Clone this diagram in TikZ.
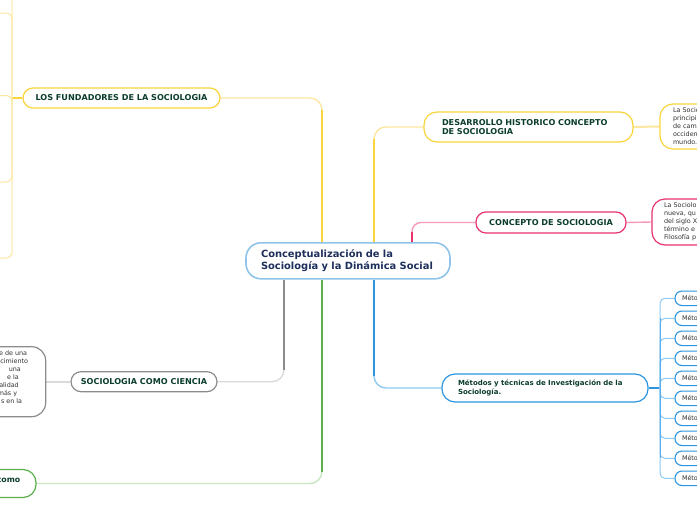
\documentclass[tikz,border=0pt]{standalone}
\usepackage{fontspec}
\setmainfont{DejaVu Sans}
\usetikzlibrary{calc,backgrounds}
\definecolor{yl}{HTML}{F9D43A}
\definecolor{ylL}{HTML}{FCE7A0}
\definecolor{pk}{HTML}{E8336D}
\definecolor{pkL}{HTML}{F59BB8}
\definecolor{bl}{HTML}{2D96E0}
\definecolor{blM}{HTML}{5AB0EE}
\definecolor{blL}{HTML}{8FCBF5}
\definecolor{gr}{HTML}{8C8C8C}
\definecolor{grL}{HTML}{DADADA}
\definecolor{gn}{HTML}{5BAF4A}
\definecolor{gnL}{HTML}{C8E6C0}
\definecolor{rootc}{HTML}{8FC4EA}
\definecolor{dkg}{HTML}{0B3D2B}
\definecolor{navy}{HTML}{1E2F5C}
\definecolor{txg}{HTML}{333333}
\begin{document}
\begin{tikzpicture}[x=1pt,y=-1pt,
  rootbox/.style={draw=rootc, line width=1.6, rounded corners=15, fill=white, text=navy,
    font=\fontsize{9.9}{12.3}\selectfont\bfseries, align=left, text width=174, inner xsep=15, inner ysep=0, minimum height=36},
  branch/.style={fill=white, line width=1.2, rounded corners=10, text=dkg,
    font=\fontsize{8.1}{9.8}\selectfont\bfseries, inner xsep=0, inner ysep=0},
  leaf/.style={fill=white, line width=1.2, text=txg, font=\fontsize{6.4}{8}\selectfont, inner ysep=0},
  mbox/.style={draw=bl, fill=white, line width=1.1, rounded corners=7, minimum width=80, minimum height=14.5,
    text width=66, inner xsep=7, inner ysep=0, align=left, font=\fontsize{6.4}{8}\selectfont, text=txg},
  frag/.style={anchor=base east, inner sep=0, text=txg, font=\fontsize{6.4}{8}\selectfont},
  thinY/.style={draw=ylL, line width=1.4},
  thickY/.style={draw=yl, line width=2.8},
]
\useasboundingbox (0,0) rectangle (697,520);

% root
\node[rootbox] (root) at (348,260.8) {Conceptualización de la\\Sociología y la Dinámica Social};

% yellow branches
\node[branch, draw=yl, minimum width=197, minimum height=20] (fund) at (121.5,98) {LOS FUNDADORES DE LA SOCIOLOGIA};
\node[branch, draw=yl, minimum height=30, text width=173, inner xsep=18, align=left, rounded corners=13] (des) at (528.5,127) {DESARROLLO HISTORICO CONCEPTO\\DE SOCIOLOGIA};
\node[leaf, draw=yl, minimum height=45, text width=114, inner xsep=13, align=left, rounded corners=13] (desc) at (730,126.5) {La Socio\\principi\\de cam\\occiden\\mundo.};

% pink
\node[branch, draw=pk, minimum width=150, minimum height=21] (con) at (551,222.5) {CONCEPTO DE SOCIOLOGIA};
\node[leaf, draw=pk, minimum height=46, text width=114, inner xsep=12, align=left, rounded corners=13] (conc) at (721,222) {La Sociolo\\nueva, qu\\del siglo X\\término e\\Filosofía p};

% blue
\node[branch, draw=bl, minimum height=28, text width=174, inner xsep=16, align=left, rounded corners=13,
  font=\fontsize{7.0}{8.7}\selectfont\bfseries] (met) at (545,388) {Métodos y técnicas de Investigación de la\\Sociología.};
\foreach \i in {1,...,10} {
  \node[mbox] (m\i) at (715,{298.3+20*(\i-1)}) {Méto};
}

% gray
\node[branch, draw=gr, minimum width=146, minimum height=20] (cie) at (144,381.7) {SOCIOLOGIA COMO CIENCIA};
\node[leaf, draw=gr, minimum width=140, minimum height=70, rounded corners=14] (ciec) at (-24.3,381.7) {};
\node[frag] (cl1) at (27.3,355.5) {e de una};
\node[frag] (cl2) at (28.3,363.5) {cimiento};
\node[frag] (cl3) at (21,371.5) {una};
\node[frag] (cl4) at (19,379.5) {e la};
\node[frag] (cl5) at (19,387.5) {alidad};
\node[frag] (cl6) at (17.3,395.5) {más y};
\node[frag] (cl7) at (22.3,403.5) {s en la};

% green
\node[branch, draw=gn, minimum width=120, minimum height=28, rounded corners=13] (como) at (-24,483.5) {};
\node[anchor=base east, inner sep=0, text=dkg, font=\fontsize{7.8}{9.6}\selectfont\bfseries] (comot) at (20.5,482) {como};

% coordinates
\coordinate (ya) at ($(root.north)+(-26,0)$);
\coordinate (da) at ($(root.north)+(26,0)$);
\coordinate (pa) at ($(root.north)+(64,0)$);
\coordinate (ba) at ($(root.south)+(26,0)$);
\coordinate (ga) at ($(root.south)+(-64,0)$);
\coordinate (na) at ($(root.south)+(-26,0)$);
\coordinate (fj) at (12,98);
\coordinate (f0) at (-6,-40);
\coordinate (f1) at (-6,13);
\coordinate (f2) at (-6,95.5);
\coordinate (f3) at (-6,182);
\coordinate (f4) at (-6,258);
\coordinate (mj) at (660,388);

\begin{scope}[on background layer]
  \fill[white] (0,0) rectangle (697,520);
  % yellow to fundadores
  \draw[thinY, rounded corners=12] (ya) |- (fund.east);
  \draw[thickY] (ya) -- ($(ya |- fund.east)+(0,12)$);
  \draw[draw=yl, line width=1.6] (fund.west) -- (fj);
  \foreach \c in {f0,f1,f2,f3,f4} {
    \draw[draw=ylL, line width=1, rounded corners=6] (fj) |- (\c);
  }
  % yellow to desarrollo
  \draw[thinY, rounded corners=12] (da) |- (des.west);
  \draw[thickY] (da) -- ($(da |- des.west)+(0,12)$);
  \draw[draw=ylL, line width=2] (des.east) -- (desc.west);
  % pink
  \draw[draw=pkL, line width=1.4, rounded corners=9] (pa) |- (con.west);
  \draw[draw=pk, line width=2.2, rounded corners=9] (pa) -- ($(pa |- con.west)+(0,9)$);
  \draw[draw=pkL, line width=1.4] (con.east) -- (conc.west);
  % blue
  \draw[draw=blL, line width=1.4, rounded corners=12] (ba) |- (met.west);
  \draw[draw=bl, line width=2.8] (ba) -- ($(ba |- met.west)+(0,-12)$);
  \draw[draw=bl, line width=1.5] (met.east) -- (mj);
  \foreach \i in {1,...,10} {
    \draw[draw=blL, line width=1, rounded corners=5] (mj) |- (m\i.west);
  }
  \draw[draw=blM, line width=1] (mj |- m2.west) -- (mj |- m9.west);
  % gray
  \draw[draw=grL, line width=1.4, rounded corners=12] (ga) |- (cie.east);
  \draw[draw=gr, line width=2.8] (ga) -- ($(ga |- cie.east)+(0,-12)$);
  \draw[draw=grL, line width=1.6] (cie.west) -- (ciec.east);
  % green
  \draw[draw=gnL, line width=1.4, rounded corners=12] (na) |- (como.east);
  \draw[draw=gn, line width=2.8] (na) -- ($(na |- como.east)+(0,-12)$);
\end{scope}
\end{tikzpicture}
\end{document}
